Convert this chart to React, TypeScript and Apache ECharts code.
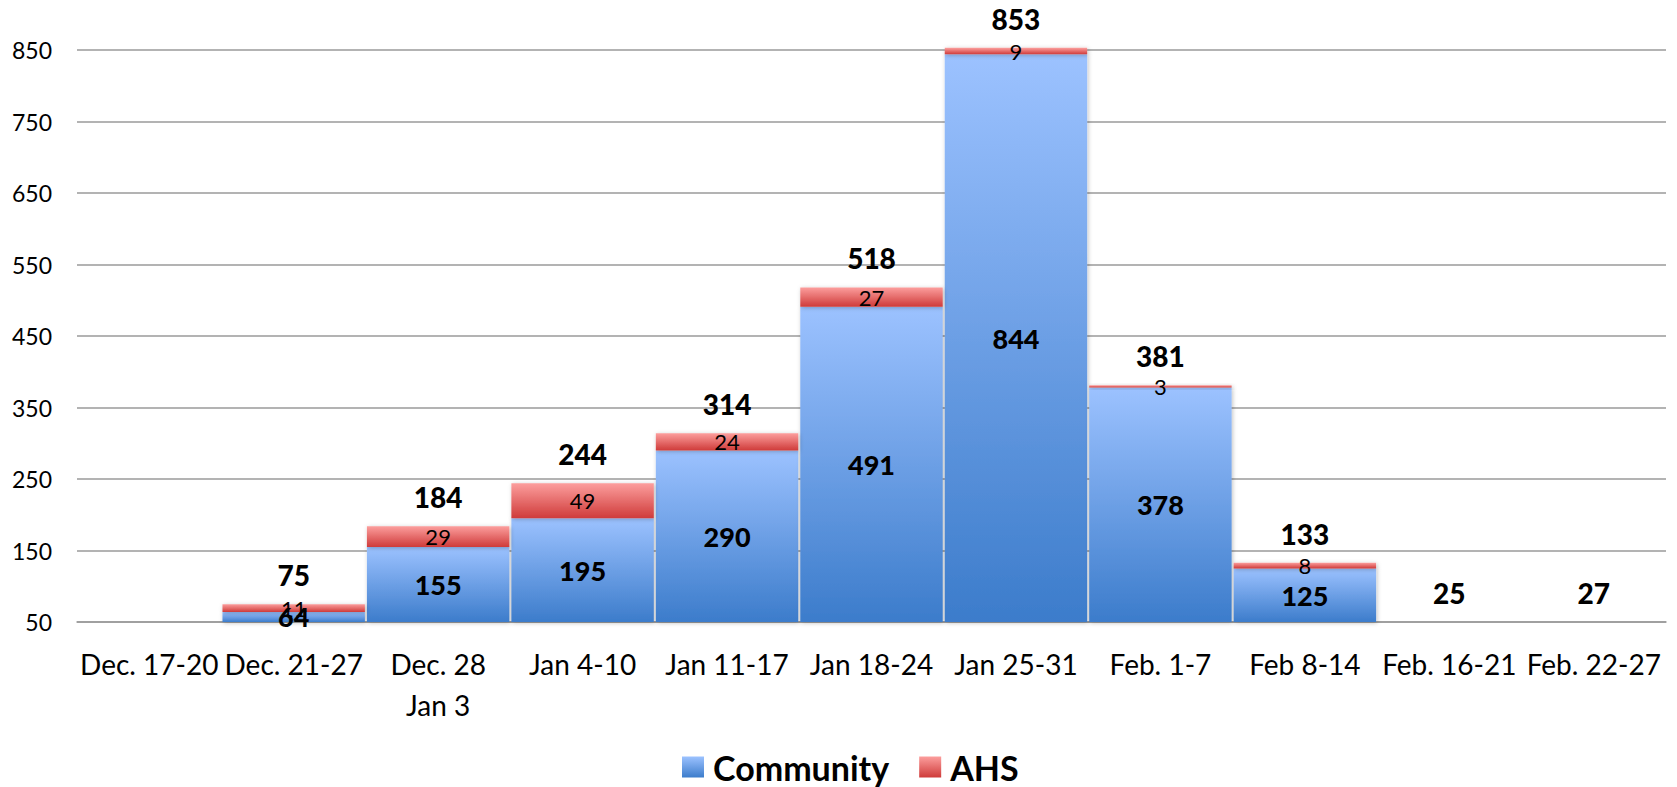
import React, { useEffect, useRef } from 'react';
import * as echarts from 'echarts';

const categories = [
  'Dec. 17-20',
  'Dec. 21-27',
  'Dec. 28\nJan 3',
  'Jan 4-10',
  'Jan 11-17',
  'Jan 18-24',
  'Jan 25-31',
  'Feb. 1-7',
  'Feb 8-14',
  'Feb. 16-21',
  'Feb. 22-27',
];
const community = [null, 64, 155, 195, 290, 491, 844, 378, 125, 25, 27];
const ahs = [null, 11, 29, 49, 24, 27, 9, 3, 8, null, null];
const totals = [null, 75, 184, 244, 314, 518, 853, 381, 133, 25, 27];
const yMin = 50;
const yMax = 850;
const yTicks = [50, 150, 250, 350, 450, 550, 650, 750, 850];

export default function App() {
  const ref = useRef<HTMLDivElement>(null);
  useEffect(() => {
    const chart = echarts.init(ref.current!, null, { renderer: 'svg' });
    const font = 'Lato, "Open Sans", sans-serif';
    const blue = new echarts.graphic.LinearGradient(0, 0, 0, 1, [
      { offset: 0, color: '#9CC2FF' },
      { offset: 1, color: '#3C7CCB' },
    ]);
    const red = new echarts.graphic.LinearGradient(0, 0, 0, 1, [
      { offset: 0, color: '#FC9E9D' },
      { offset: 1, color: '#CF3B3A' },
    ]);
    const shadow = {
      shadowBlur: 4,
      shadowColor: 'rgba(0,0,0,0.25)',
      shadowOffsetX: 1,
      shadowOffsetY: 1,
    };
    chart.setOption({
      animation: false,
      textStyle: { fontFamily: font },
      grid: { left: 77, right: 11, top: 50, bottom: 165 },
      legend: {
        data: ['Community', 'AHS'],
        left: 682,
        top: 750,
        padding: 0,
        itemWidth: 22,
        itemHeight: 21,
        itemGap: 30,
        icon: 'rect',
        textStyle: {
          fontFamily: font,
          fontSize: 34,
          fontWeight: 'bold',
          color: '#000',
          padding: [0, 0, 0, 4],
        },
      },
      xAxis: {
        type: 'category',
        data: categories,
        axisTick: { show: false },
        axisLine: { show: true, lineStyle: { color: '#9a9a9a', width: 1.5 } },
        axisLabel: {
          interval: 0,
          fontFamily: font,
          fontSize: 28,
          lineHeight: 41,
          color: '#000',
          margin: 21,
        },
      },
      yAxis: {
        type: 'value',
        min: yMin,
        max: yMax,
        axisLine: { show: false },
        axisTick: { show: false, customValues: yTicks },
        axisLabel: {
          customValues: yTicks,
          fontFamily: font,
          fontSize: 23,
          color: '#000',
          margin: 25,
        },
        splitLine: { show: true, lineStyle: { color: '#9a9a9a', width: 1.5 } },
      },
      series: [
        {
          name: 'Community',
          type: 'bar',
          stack: 'total',
          barCategoryGap: '1.4%',
          data: community,
          itemStyle: { color: blue, ...shadow },
          label: {
            show: true,
            position: 'inside',
            fontFamily: font,
            fontSize: 27,
            fontWeight: 900,
            color: '#000',
            textBorderWidth: 0,
            textBorderColor: 'transparent',
          },
        },
        {
          name: 'AHS',
          type: 'bar',
          stack: 'total',
          clip: false,
          data: ahs,
          itemStyle: { color: red, ...shadow },
          label: {
            show: true,
            position: 'inside',
            fontFamily: font,
            fontSize: 22,
            color: '#000',
            textBorderWidth: 0,
            textBorderColor: 'transparent',
          },
        },
        {
          name: 'Total',
          type: 'scatter',
          clip: false,
          silent: true,
          symbolSize: 0,
          itemStyle: { opacity: 1, color: '#000' },
          data: totals.map((t) => (t == null ? null : Math.max(t, yMin))),
          label: {
            show: true,
            position: 'top',
            distance: 13,
            formatter: (p: any) => String(totals[p.dataIndex]),
            fontFamily: font,
            fontSize: 28,
            lineHeight: 32,
            fontWeight: 900,
            color: '#000',
            opacity: 1,
          },
        },
      ],
    });
    return () => chart.dispose();
  }, []);
  return (
    <div
      ref={ref}
      style={{ position: 'absolute', left: 0, top: 0, width: 1677, height: 787 }}
    />
  );
}
